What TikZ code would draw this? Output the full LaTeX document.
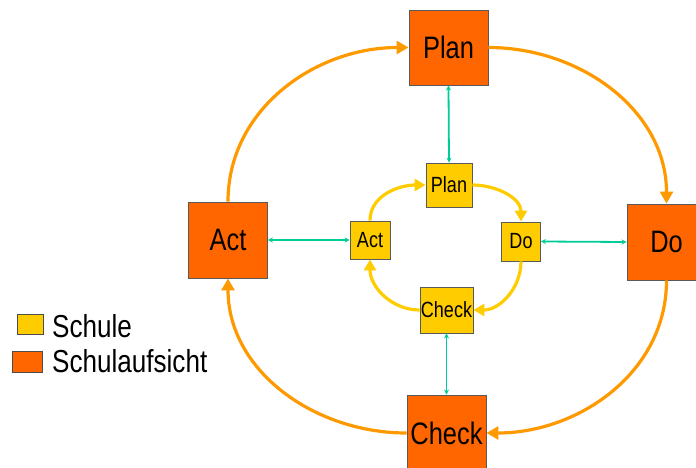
\documentclass[tikz,border=0pt]{standalone}
\usepackage{fontspec}
\newfontfamily\nar{Liberation Sans}[FakeStretch=0.82]
\usetikzlibrary{arrows.meta}
\definecolor{boxorange}{RGB}{255,102,0}
\definecolor{boxyellow}{RGB}{255,204,0}
\definecolor{arcorange}{RGB}{255,153,0}
\definecolor{linkgreen}{RGB}{0,204,153}
\tikzset{
  bigbox/.style={draw=black!65, line width=0.9pt, fill=boxorange, inner sep=0pt,
    minimum width=79pt, minimum height=76pt, font=\nar\fontsize{31}{36}\selectfont},
  smallbox/.style={draw=black!65, line width=0.8pt, fill=boxyellow, inner sep=0pt,
    font=\nar\fontsize{22}{26}\selectfont},
  bigarc/.style={draw=arcorange, line width=3.2pt, -{Triangle[length=12pt,width=13pt]}},
  smallarc/.style={draw=boxyellow, line width=3.2pt, -{Triangle[length=11pt,width=12pt]}},
  link/.style={draw=linkgreen, line width=1.8pt, {Stealth[length=5pt,width=5pt]}-{Stealth[length=5pt,width=5pt]}},
  legtext/.style={font=\nar\fontsize{31.8}{36}\selectfont, inner sep=0pt, anchor=base west},
}
\begin{document}
\begin{tikzpicture}[x=1pt,y=-1pt]
\useasboundingbox (0,0) rectangle (696,468);
% big boxes
\node[bigbox, minimum height=75pt] (P) at (448.5,47.5) {Plan};
\node[bigbox] (D) at (666.5,242) {Do};
\node[bigbox] (C) at (446.5,433) {Check};
\node[bigbox] (A) at (228,240) {Act};
% small boxes
\node[smallbox, minimum width=46pt, minimum height=44pt] (p) at (449,185) {Plan};
\node[smallbox, minimum width=39pt, minimum height=39pt] (d) at (521,241.5) {Do};
\node[smallbox, minimum width=40pt, minimum height=38pt] (a) at (370,240) {Act};
\node[smallbox, minimum width=53pt, minimum height=46pt] (c) at (446.5,310) {Check};
% outer cycle
\draw[bigarc] (A.north) to[out=90,in=180] (P.west);
\draw[bigarc] (P.east) to[out=0,in=90] (D.north);
\draw[bigarc] (D.south) to[out=-90,in=0] (C.east);
\draw[bigarc] (C.west) to[out=180,in=-90] (A.south);
% inner cycle
\draw[smallarc] (a.north) to[out=90,in=180] (p.west);
\draw[smallarc] (p.east) to[out=0,in=90] (d.north);
\draw[smallarc] (d.south) to[out=-90,in=0] (c.east);
\draw[smallarc] (c.west) to[out=180,in=-90] (a.south);
% links
\draw[link] (p.north) -- (P.south);
\draw[link] (a.west) -- (A.east);
\draw[link] (d.east) -- (D.west);
\draw[link] (c.south) -- (C.north);
% legend
\node[draw=black!70, line width=0.9pt, fill=boxyellow, minimum width=26pt, minimum height=20pt, inner sep=0pt] (ly) at (30,324) {};
\node[draw=black!70, line width=0.9pt, fill=boxorange, minimum width=30pt, minimum height=21pt, inner sep=0pt] (lo) at (27,361.5) {};
\node[legtext] (lyt) at (52,337) {Schule};
\node[legtext] (lot) at (52,372) {Schulaufsicht};
\end{tikzpicture}
\end{document}
